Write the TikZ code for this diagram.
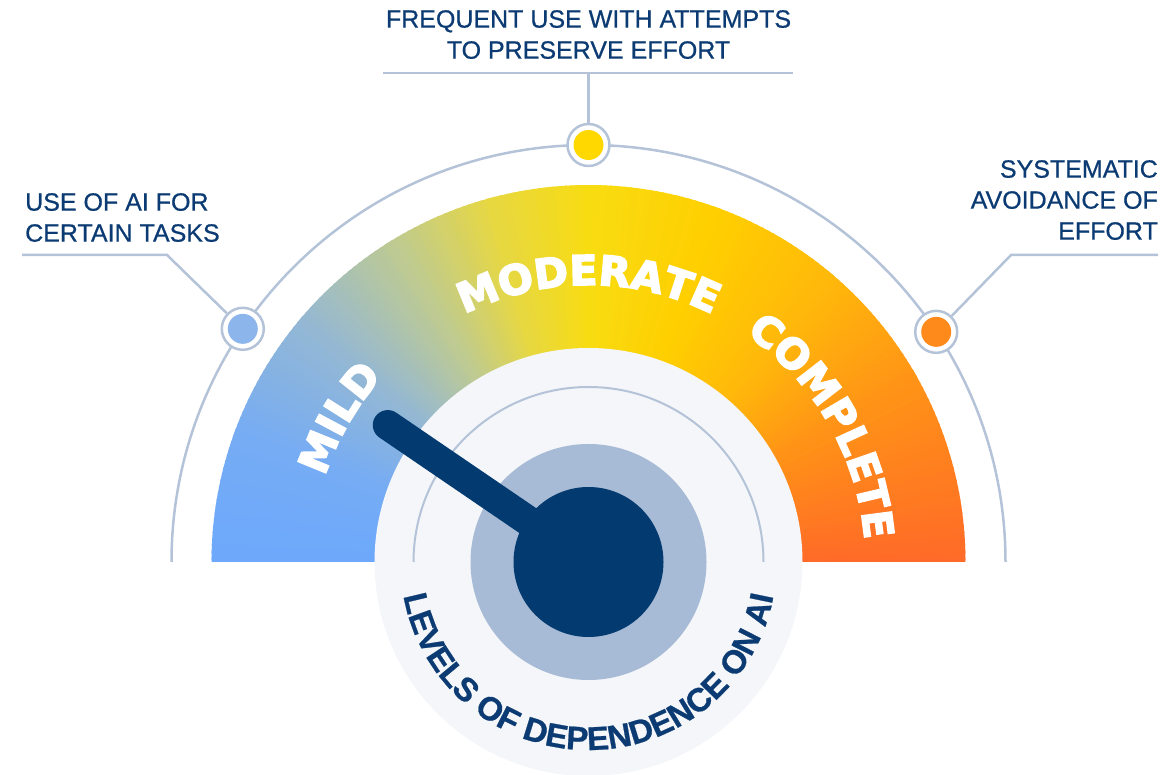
\documentclass[tikz,border=0pt]{standalone}
\usepackage{fontspec}
\setmainfont{Liberation Sans}[FakeBold=0.7]
\newfontfamily\gaugefont{DejaVu Sans}[BoldFeatures={FakeBold=4}]
\usetikzlibrary{calc,decorations.text}

\definecolor{navy}{HTML}{0B3B72}
\definecolor{hubnavy}{HTML}{033A70}
\definecolor{guidegray}{HTML}{B4C3D8}
\definecolor{diskgray}{HTML}{F4F6F9}
\definecolor{ringblue}{HTML}{A8BBD6}
\definecolor{dotblue}{HTML}{8CB5EC}
\definecolor{dotyellow}{HTML}{FFD800}
\definecolor{dotorange}{HTML}{FF8A1C}
% colour stops of the gauge band
\definecolor{g0}{HTML}{6DA8FB}
\definecolor{g1}{HTML}{76ACF4}
\definecolor{g2}{HTML}{94B8D4}
\definecolor{g3}{HTML}{BDCA94}
\definecolor{g4}{HTML}{E8D840}
\definecolor{g5}{HTML}{F8DC12}
\definecolor{g6}{HTML}{FFCF00}
\definecolor{g7}{HTML}{FFB90A}
\definecolor{g8}{HTML}{FF9416}
\definecolor{g9}{HTML}{FF6A28}

\tikzset{
  guide/.style={draw=guidegray, line width=2.5},
  lbl/.style={text=navy, inner sep=0, font=\fontsize{25}{31}\selectfont},
  dotring/.style={circle, draw=guidegray, line width=2.5, fill=white, minimum size=42, inner sep=0},
  needle/.style={draw=hubnavy, line width=30, line cap=round},
}

\begin{document}
\begin{tikzpicture}[x=1pt,y=1pt]
    \useasboundingbox (0,0) rectangle (1173,774);
    \coordinate (cen) at (588.5,212);

    % Gauge band
    \begin{scope}
        \clip (cen) ++(-380,0) rectangle ++(760,380);
        \foreach \ahi/\alo/\cola/\colb in {180/160/g0/g1,160/140/g1/g2,140/122/g2/g3,122/105/g3/g4,105/90/g4/g5,90/70/g5/g6,70/50/g6/g7,50/30/g7/g8,30/0/g8/g9} {
            \foreach \a in {\alo,...,\ahi} {
                \pgfmathtruncatemacro\pct{100*(\a-\alo)/(\ahi-\alo)}
                \colorlet{wedge}{\cola!\pct!\colb}
                \fill[wedge] (cen) -- ++({\a-0.7}:377) arc[start angle=\a-0.7, end angle=\a+0.7, radius=377] -- cycle;
            }
        }
    \end{scope}
    \draw[guide] (cen) ++(0:417) arc[start angle=0, end angle=180, radius=417];

    % Dial
    \fill[diskgray] (cen) circle[radius=214];
    \draw[guide, line width=2] (cen) ++(0:175) arc[start angle=0, end angle=180, radius=175];
    \node[circle, fill=ringblue, minimum size=236, inner sep=0] (ring) at (cen) {};
    \coordinate (tip) at ($(cen)+(145.7:243)$);
    \draw[needle] (ring.center) -- (tip);
    \node[circle, fill=hubnavy, minimum size=150, inner sep=0] (hub) at (cen) {};

    % Band labels
    \path[decorate, decoration={text along path, text align=center, text color=white,
        text={|\gaugefont\bfseries\fontsize{41}{41}\selectfont|MILD}}]
        ($(cen)+(180:277)$) arc[start angle=180, end angle=120, radius=277];
    \path[decorate, decoration={text along path, text align=center, text color=white,
        text={|\gaugefont\bfseries\fontsize{41}{41}\selectfont|MODERATE}}]
        ($(cen)+(150:277)$) arc[start angle=150, end angle=30, radius=277];
    \path[decorate, decoration={text along path, text align=center, text color=white,
        text={|\gaugefont\bfseries\fontsize{41}{41}\selectfont|COMPLETE}}]
        ($(cen)+(60:277)$) arc[start angle=60, end angle=0, radius=277];
    \path[decorate, decoration={text along path, text align=center, text color=navy,
        text={|\bfseries\fontsize{33}{33}\selectfont|LEVELS OF DEPENDENCE ON AI}}]
        ($(cen)+(180:188)$) arc[start angle=180, end angle=360, radius=188];

    % Markers on the outer arc
    \node[dotring] (dotl) at ($(cen)+(146:417)$) {};
    \node[dotring] (dott) at ($(cen)+(90:417)$) {};
    \node[dotring] (dotr) at ($(cen)+(33.5:417)$) {};
    \fill[dotblue] (dotl.center) circle[radius=15];
    \fill[dotyellow] (dott.center) circle[radius=15];
    \fill[dotorange] (dotr.center) circle[radius=15];

    % Leader lines
    \coordinate (kneel) at (167,519);
    \coordinate (endl) at (22,519);
    \coordinate (kneer) at (1011,519);
    \coordinate (endr) at (1158,519);
    \coordinate (kneet) at (588.5,701);
    \coordinate (topl) at (383,701);
    \coordinate (topr) at (793,701);
    \draw[guide] (dotl) -- (kneel) -- (endl);
    \draw[guide] (dotr) -- (kneer) -- (endr);
    \draw[guide] (dott) -- (kneet);
    \draw[guide] (topl) -- (topr);

    % Texts
    \node[lbl, anchor=north, align=center] (labt) at (588.5,764) {FREQUENT USE WITH ATTEMPTS\\TO PRESERVE EFFORT};
    \node[lbl, anchor=north west, align=left] (labl) at (25,581) {USE OF AI FOR\\CERTAIN TASKS};
    \node[lbl, anchor=north east, align=right] (labr) at (1158,614) {SYSTEMATIC\\AVOIDANCE OF\\EFFORT};
\end{tikzpicture}
\end{document}
